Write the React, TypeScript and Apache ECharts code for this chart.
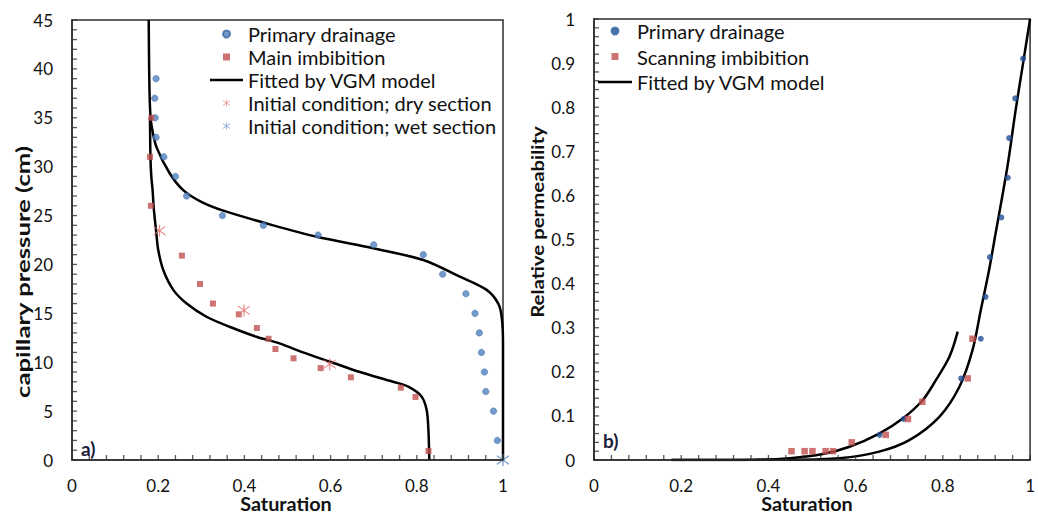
import React, { useEffect, useRef } from "react";
import * as echarts from "echarts";

// ---------- Data (left panel: capillary pressure vs saturation) ----------
const drainagePointsA: number[][] = [
  [0.195, 39], [0.192, 37], [0.193, 35], [0.195, 33], [0.213, 31], [0.24, 29], [0.266, 27],
  [0.349, 25], [0.444, 24], [0.571, 23], [0.7, 22], [0.815, 21], [0.86, 19], [0.914, 17],
  [0.935, 15], [0.945, 13], [0.95, 11], [0.957, 9], [0.96, 7], [0.978, 5], [0.987, 2],
];
const mainImbibitionA: number[][] = [
  [0.184, 35], [0.181, 31], [0.183, 26], [0.255, 20.9], [0.297, 18], [0.327, 16], [0.387, 14.9],
  [0.429, 13.5], [0.456, 12.4], [0.472, 11.35], [0.514, 10.4], [0.577, 9.4], [0.647, 8.46],
  [0.763, 7.4], [0.797, 6.45], [0.827, 0.92],
];
const dryInitialA: number[][] = [[0.203, 23.45], [0.399, 15.3], [0.598, 9.8]];
const wetInitialA: number[][] = [[1.0, 0]];
const fitDrainageA: number[][] = [
  [0.178, 45], [0.179, 40], [0.181, 36], [0.185, 34.1], [0.196, 32], [0.227, 29.3], [0.258, 27.6],
  [0.3, 26.4], [0.351, 25.5], [0.467, 24.0], [0.571, 22.8], [0.699, 21.65], [0.815, 20.45],
  [0.9, 18.75], [0.962, 17.4], [0.989, 16.0], [0.997, 14.6], [1.0, 12], [1.0, 0],
];
const fitImbibitionA: number[][] = [
  [0.181, 35], [0.182, 31], [0.184, 29], [0.187, 27.6], [0.19, 25.6], [0.195, 23.5], [0.2, 21.5],
  [0.212, 19.4], [0.235, 17.4], [0.266, 16.0], [0.312, 14.65], [0.367, 13.6], [0.428, 12.6],
  [0.483, 11.9], [0.536, 11.0], [0.599, 10.05], [0.668, 9.0], [0.745, 8.0], [0.78, 7.5],
  [0.811, 6.5], [0.823, 5.1], [0.827, 3.0], [0.829, 0],
];

// ---------- Data (right panel: relative permeability vs saturation) ----------
const drainagePointsB: number[][] = [
  [0.984, 0.91], [0.966, 0.82], [0.952, 0.73], [0.949, 0.64], [0.934, 0.55], [0.908, 0.46],
  [0.898, 0.37], [0.887, 0.275], [0.842, 0.185], [0.71, 0.093], [0.655, 0.057],
];
const scanningImbibitionB: number[][] = [
  [0.868, 0.275], [0.857, 0.185], [0.753, 0.132], [0.72, 0.093], [0.669, 0.057], [0.591, 0.04],
  [0.548, 0.02], [0.531, 0.02], [0.501, 0.02], [0.483, 0.02], [0.453, 0.02],
];
const fitDrainageB: number[][] = [
  [0.178, 0], [0.45, 0.0005], [0.563, 0.004], [0.654, 0.019], [0.723, 0.045], [0.792, 0.098],
  [0.838, 0.166], [0.868, 0.249], [0.887, 0.34], [0.906, 0.431], [0.921, 0.514], [0.948, 0.665],
  [0.967, 0.794], [0.984, 0.9], [1.0, 1.0],
];
const fitScanningB: number[][] = [
  [0.178, 0], [0.372, 0.0005], [0.449, 0.004], [0.525, 0.0136], [0.586, 0.03], [0.654, 0.06],
  [0.708, 0.094], [0.754, 0.136], [0.784, 0.181], [0.815, 0.234], [0.834, 0.291],
];

// ---------- Axis minor tick steps ----------
const satTickStep = 0.04;
const pcTickStep = 1;
const krTickStep = 0.02;

const ASTERISK =
  "path://M4.5,0H5.5V10H4.5Z M0,0.9L10,8.0L10,9.1L0,2.0Z M0,8.0L10,0.9L10,2.0L0,9.1Z";
const LINE_ICON = "path://M0,0H14V1H0Z";
const SQUARE_ICON = "path://M0,0H1V1H0Z";

const BLUE_A = "#4F81BD";
const BLUE_B = "#1F4E96";
const RED = "#C0504D";
const DRY = "#E46C6C";
const FRAME = "#2e2e2e";
const FONT = "Lato, 'Noto Sans', sans-serif";
const TICK_LEN = 5;
const TICK_W = 1.3;

function tickValues(step: number, max: number): number[] {
  const n = Math.round(max / step);
  const out: number[] = [];
  for (let i = 0; i <= n; i++) out.push(+(i * step).toFixed(6));
  return out;
}

const labelStyle = (margin: number) => ({ fontFamily: FONT, fontSize: 17, color: "#111", margin });

function valueAxis(gridIndex: number, max: number, interval: number, margin: number) {
  return {
    type: "value", gridIndex, min: 0, max, interval, z: 5,
    axisLine: { show: true, onZero: false, lineStyle: { color: FRAME, width: 1.5 } },
    axisTick: { show: false },
    splitLine: { show: false },
    axisLabel: labelStyle(margin),
  };
}

// Inward tick marks drawn as thin rect symbols placed on the axes through the axis scales.
function tickSeries(axisIndex: number, values: number[], dir: "x" | "y") {
  return {
    type: "scatter",
    xAxisIndex: axisIndex,
    yAxisIndex: axisIndex,
    silent: true,
    clip: false,
    z: 6,
    symbol: "rect",
    symbolSize: dir === "x" ? [TICK_W, TICK_LEN] : [TICK_LEN, TICK_W],
    symbolOffset: dir === "x" ? [0, -TICK_LEN / 2] : [TICK_LEN / 2, 0],
    itemStyle: { color: FRAME },
    emphasis: { disabled: true },
    tooltip: { show: false },
    data: values.map((v) => (dir === "x" ? [v, 0] : [0, v])),
  };
}

export default function App() {
  const ref = useRef<HTMLDivElement>(null);
  useEffect(() => {
    if (!ref.current) return;
    const chart = echarts.init(ref.current, undefined, { renderer: "svg" });
    const line = (data: number[][], xi: number) => ({
      name: "Fitted by VGM model", type: "line", xAxisIndex: xi, yAxisIndex: xi, data,
      showSymbol: false, smooth: 0.3, color: "#000", lineStyle: { color: "#000", width: 2.5 }, z: 2,
    });
    const option: any = {
      animation: false,
      backgroundColor: "#ffffff",
      grid: [
        { left: 72, top: 20, width: 431, height: 440, show: true, z: 0, backgroundColor: "transparent", borderColor: FRAME, borderWidth: 1.5 },
        { left: 594, top: 19, width: 437, height: 441, show: true, z: 0, backgroundColor: "transparent", borderColor: FRAME, borderWidth: 1.5 },
      ],
      xAxis: [valueAxis(0, 1, 0.2, 17), valueAxis(1, 1, 0.2, 17)],
      yAxis: [valueAxis(0, 45, 5, 19), valueAxis(1, 1, 0.1, 19)],
      legend: [
        {
          left: 210,
          top: 24,
          padding: 0,
          orient: "vertical",
          itemWidth: 33,
          itemHeight: 7,
          itemGap: 3,
          selectedMode: false,
          textStyle: { fontFamily: FONT, fontSize: 20, lineHeight: 20, color: "#111" },
          data: [
            { name: "Primary drainage", icon: "circle", itemStyle: { color: BLUE_A } },
            { name: "Main imbibition", icon: SQUARE_ICON, itemStyle: { color: RED } },
            { name: "Fitted by VGM model", icon: LINE_ICON, itemStyle: { color: "#000" } },
            { name: "Initial condition; dry section", icon: ASTERISK, itemStyle: { color: DRY } },
            { name: "Initial condition; wet section", icon: ASTERISK, itemStyle: { color: BLUE_A } },
          ],
        },
        {
          left: 598,
          top: 21,
          padding: 0,
          orient: "vertical",
          itemWidth: 34,
          itemHeight: 7,
          itemGap: 5.5,
          selectedMode: false,
          textStyle: { fontFamily: FONT, fontSize: 20, lineHeight: 20, color: "#111" },
          data: [
            { name: "Primary drainage", icon: "circle", itemStyle: { color: BLUE_B } },
            { name: "Scanning imbibition", icon: SQUARE_ICON, itemStyle: { color: RED } },
            { name: "Fitted by VGM model", icon: LINE_ICON, itemStyle: { color: "#000" } },
          ],
        },
      ],
      graphic: [
        { type: "text", x: 81, y: 439, z: 10, style: { text: "a)", fontSize: 19, fontWeight: "bold", fontFamily: FONT, fill: "#1b1b3a" } },
        { type: "text", x: 603, y: 431, z: 10, style: { text: "b)", fontSize: 19, fontWeight: "bold", fontFamily: FONT, fill: "#1b1b3a" } },
        {
          type: "text", x: 286, y: 503.5, scaleX: 1.1,
          style: { text: "Saturation", font: `bold 18px ${FONT}`, fill: "#111", align: "center", verticalAlign: "middle" },
        },
        {
          type: "text", x: 807, y: 503.5, scaleX: 1.1,
          style: { text: "Saturation", font: `bold 18px ${FONT}`, fill: "#111", align: "center", verticalAlign: "middle" },
        },
        {
          type: "text", x: 23, y: 272, rotation: Math.PI / 2, scaleX: 1.43,
          style: { text: "capillary pressure (cm)", font: `bold 18px ${FONT}`, fill: "#111", align: "center", verticalAlign: "middle" },
        },
        {
          type: "text", x: 537, y: 222, rotation: Math.PI / 2, scaleX: 1.2,
          style: { text: "Relative permeability", font: `bold 17px ${FONT}`, fill: "#111", align: "center", verticalAlign: "middle" },
        },
      ],
      series: [
        tickSeries(0, tickValues(satTickStep, 1), "x"),
        tickSeries(0, tickValues(pcTickStep, 45), "y"),
        tickSeries(1, tickValues(satTickStep, 1), "x"),
        tickSeries(1, tickValues(krTickStep, 1), "y"),
        line(fitDrainageA, 0),
        line(fitImbibitionA, 0),
        {
          name: "Primary drainage", type: "scatter", xAxisIndex: 0, yAxisIndex: 0, data: drainagePointsA,
          symbol: "circle", symbolSize: 6.5, itemStyle: { color: BLUE_A, borderColor: "#3b6aa6", borderWidth: 0.6 }, z: 3,
        },
        {
          name: "Main imbibition", type: "scatter", xAxisIndex: 0, yAxisIndex: 0, data: mainImbibitionA,
          symbol: "rect", symbolSize: 6, itemStyle: { color: RED }, z: 3,
        },
        {
          name: "Initial condition; dry section", type: "scatter", xAxisIndex: 0, yAxisIndex: 0, data: dryInitialA,
          symbol: ASTERISK, symbolSize: 12, itemStyle: { color: DRY }, z: 4,
        },
        {
          name: "Initial condition; wet section", type: "scatter", xAxisIndex: 0, yAxisIndex: 0, data: wetInitialA,
          symbol: ASTERISK, symbolSize: 12, clip: false, itemStyle: { color: BLUE_A }, z: 4,
        },
        line(fitDrainageB, 1),
        line(fitScanningB, 1),
        {
          name: "Primary drainage", type: "scatter", xAxisIndex: 1, yAxisIndex: 1, data: drainagePointsB,
          symbol: "circle", symbolSize: 6, itemStyle: { color: BLUE_B }, z: 3,
        },
        {
          name: "Scanning imbibition", type: "scatter", xAxisIndex: 1, yAxisIndex: 1, data: scanningImbibitionB,
          symbol: "rect", symbolSize: 6.5, itemStyle: { color: RED }, z: 4,
        },
      ],
    };
    chart.setOption(option);
    return () => chart.dispose();
  }, []);
  return (
    <div
      ref={ref}
      style={{ position: "absolute", left: 0, top: 0, width: 1038, height: 513, background: "#fff" }}
    />
  );
}
